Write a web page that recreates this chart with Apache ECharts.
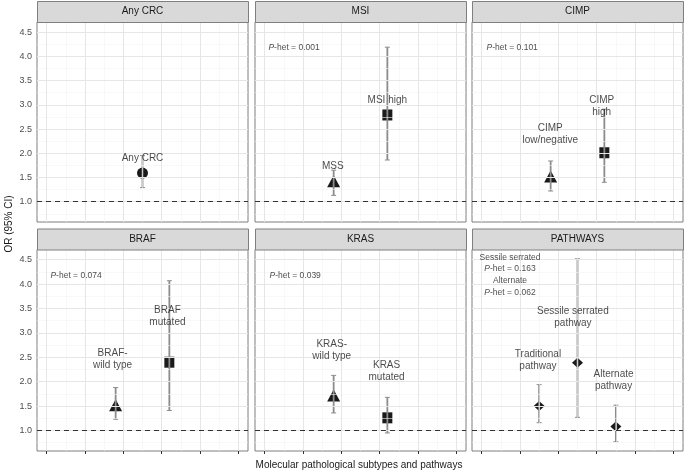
<!DOCTYPE html>
<html><head><meta charset="utf-8">
<script src="https://cdn.jsdelivr.net/npm/echarts@6/dist/echarts.min.js"></script>
<style>html,body{margin:0;padding:0;background:#fff}#c{width:685px;height:471px}</style>
</head><body><div id="c"></div>
<script>
// ---- data ----
const panelTitles = ['Any CRC','MSI','CIMP','BRAF','KRAS','PATHWAYS'];
const xTicks = [0,1,2,3,4,5];
const xMinor = [0.5,1.5,2.5,3.5,4.5];
const yTicks = [1.0,1.5,2.0,2.5,3.0,3.5,4.0,4.5];
const yMinor = [0.75,1.25,1.75,2.25,2.75,3.25,3.75,4.25];
const refValue = 1.0;

const anyX = [2.5], anyOR = [1.59], anyLo = [1.29], anyHi = [1.95], anyShape = ['circle'];
const msiX = [1.8,3.2], msiOR = [1.42,2.79], msiLo = [1.13,1.86], msiHi = [1.65,4.19], msiShape = ['triangle','rect'];
const cimpX = [1.8,3.2], cimpOR = [1.52,2.01], cimpLo = [1.22,1.40], cimpHi = [1.84,2.91], cimpShape = ['triangle','rect'];
const brafX = [1.8,3.2], brafOR = [1.52,2.40], brafLo = [1.23,1.41], brafHi = [1.88,4.07], brafShape = ['triangle','rect'];
const krasX = [1.8,3.2], krasOR = [1.72,1.26], krasLo = [1.36,0.95], krasHi = [2.13,1.68], krasShape = ['triangle','rect'];
const pathX = [1.5,2.5,3.5], pathOR = [1.50,2.39,1.08], pathLo = [1.16,1.27,0.77], pathHi = [1.94,4.52,1.52], pathShape = ['diamond','diamond','diamond'];

// labels: text, x, y (data units)
const anyLabText = ['Any CRC'], anyLabX = [2.5], anyLabY = [1.89];
const msiLabText = ['MSS','MSI high'], msiLabX = [1.78,3.2], msiLabY = [1.73,3.10];
const cimpLabText = ['CIMP\nlow/negative','CIMP\nhigh'], cimpLabX = [1.79,3.13], cimpLabY = [2.39,2.96];
const brafLabText = ['BRAF-\nwild type','BRAF\nmutated'], brafLabX = [1.72,3.15], brafLabY = [2.46,3.34];
const krasLabText = ['KRAS-\nwild type','KRAS\nmutated'], krasLabX = [1.75,3.18], krasLabY = [2.65,2.21];
const pathLabText = ['Traditional\npathway','Sessile serrated\npathway','Alternate\npathway'], pathLabX = [1.47,2.38,3.44], pathLabY = [2.45,3.33,2.03];

// p-het annotations
const phetText = [null,'0.001','0.101','0.074','0.039',null];
const phetX = [0,0.1,0.13,0.1,0.13,0];
const phetY = [0,4.19,4.19,4.18,4.18,0];
const pathNoteText = ['Sessile serrated','{i|P}-het = 0.163','Alternate','{i|P}-het = 0.062'];
const pathNoteX = 0.74, pathNoteY = 4.19;

const panels = [
  {x:anyX,or:anyOR,lo:anyLo,hi:anyHi,sh:anyShape,lt:anyLabText,lx:anyLabX,ly:anyLabY},
  {x:msiX,or:msiOR,lo:msiLo,hi:msiHi,sh:msiShape,lt:msiLabText,lx:msiLabX,ly:msiLabY},
  {x:cimpX,or:cimpOR,lo:cimpLo,hi:cimpHi,sh:cimpShape,lt:cimpLabText,lx:cimpLabX,ly:cimpLabY},
  {x:brafX,or:brafOR,lo:brafLo,hi:brafHi,sh:brafShape,lt:brafLabText,lx:brafLabX,ly:brafLabY},
  {x:krasX,or:krasOR,lo:krasLo,hi:krasHi,sh:krasShape,lt:krasLabText,lx:krasLabX,ly:krasLabY},
  {x:pathX,or:pathOR,lo:pathLo,hi:pathHi,sh:pathShape,lt:pathLabText,lx:pathLabX,ly:pathLabY}
];

// ---- layout ----
const FONT = '"Liberation Sans", Arial, Helvetica, sans-serif';
const colLeft = [37,255,472], panelW = 211;
const rowTop = [22,249.5], panelH = [200,201.5];
const stripH = 21;
const XMIN = -0.25, XMAX = 5.25, YMIN = 0.58, YMAX = 4.71;

const symSize = {circle:[11,11], triangle:[13,12], rect:[10,11], diamond:[11,10]};

const grids=[], xAxes=[], yAxes=[], series=[], graphics=[];

function renderErr(params, api){
  const x = api.value(0), lo = api.value(1), hi = api.value(2);
  const a = api.coord([x,lo]), b = api.coord([x,hi]);
  const c = 2.5;
  const st = {stroke:'#8c8c8c', lineWidth:1.8};
  return {type:'group', children:[
    {type:'line', shape:{x1:a[0],y1:a[1],x2:b[0],y2:b[1]}, style:st},
    {type:'line', shape:{x1:a[0]-c,y1:a[1],x2:a[0]+c,y2:a[1]}, style:{stroke:'#8c8c8c',lineWidth:1}},
    {type:'line', shape:{x1:b[0]-c,y1:b[1],x2:b[0]+c,y2:b[1]}, style:{stroke:'#8c8c8c',lineWidth:1}}
  ]};
}

panels.forEach((p,i)=>{
  const r = Math.floor(i/3), c = i%3;
  const left = colLeft[c], top = rowTop[r], h = panelH[r];
  grids.push({left:left, top:top, width:panelW, height:h, show:true, backgroundColor:'#fff', borderColor:'#7f7f7f', borderWidth:1, containLabel:false});
  xAxes.push({type:'value', gridIndex:i, min:XMIN, max:XMAX,
    axisLine:{show:false}, splitLine:{show:false},
    axisTick:{show:r===1, customValues:xTicks, length:3, lineStyle:{color:'#333'}},
    axisLabel:{show:false}});
  yAxes.push({type:'value', gridIndex:i, min:YMIN, max:YMAX,
    axisLine:{show:false}, splitLine:{show:false},
    axisTick:{show:c===0, customValues:yTicks, length:3, lineStyle:{color:'#333'}},
    axisLabel:{show:c===0, customValues:yTicks, formatter:v=>Number(v).toFixed(1), color:'#4d4d4d', fontSize:9, fontFamily:FONT, margin:5}});

  // grid lines
  const gl = [];
  xMinor.forEach(v=>gl.push({xAxis:v, lineStyle:{color:'#f3f3f3',width:0.6,type:'solid'}}));
  yMinor.forEach(v=>gl.push({yAxis:v, lineStyle:{color:'#f3f3f3',width:0.6,type:'solid'}}));
  xTicks.forEach(v=>gl.push({xAxis:v, lineStyle:{color:'#e6e6e6',width:1,type:'solid'}}));
  yTicks.forEach(v=>gl.push({yAxis:v, lineStyle:{color:'#e6e6e6',width:1,type:'solid'}}));
  series.push({type:'scatter', xAxisIndex:i, yAxisIndex:i, data:[], silent:true, z:1,
    markLine:{silent:true, symbol:'none', label:{show:false}, animation:false, data:gl}});
  // reference line
  series.push({type:'scatter', xAxisIndex:i, yAxisIndex:i, data:[], silent:true, z:2,
    markLine:{silent:true, symbol:'none', label:{show:false}, animation:false,
      data:[{yAxis:refValue, lineStyle:{color:'#333', width:1.1, type:[5,4]}}]}});
  // points
  series.push({type:'scatter', xAxisIndex:i, yAxisIndex:i, z:3, animation:false,
    itemStyle:{color:'#1a1a1a', opacity:1},
    data:p.x.map((x,k)=>({value:[x,p.or[k]], symbol:p.sh[k], symbolSize:symSize[p.sh[k]]}))});
  // error bars
  series.push({type:'custom', xAxisIndex:i, yAxisIndex:i, z:4, animation:false,
    renderItem:renderErr, data:p.x.map((x,k)=>[x,p.lo[k],p.hi[k]])});
  // labels
  series.push({type:'scatter', xAxisIndex:i, yAxisIndex:i, z:5, symbolSize:0, animation:false, silent:true,
    label:{show:true, position:'inside', formatter:d=>d.name, color:'#1a1a1a', fontSize:10, lineHeight:12, fontFamily:FONT, align:'center', verticalAlign:'middle'},
    data:p.lt.map((t,k)=>({name:t, value:[p.lx[k],p.ly[k]]}))});
  if (phetText[i]) {
    series.push({type:'scatter', xAxisIndex:i, yAxisIndex:i, z:5, symbolSize:0, animation:false, silent:true,
      label:{show:true, position:'inside', align:'left', verticalAlign:'middle', formatter:'{i|P}-het = '+phetText[i],
        color:'#1a1a1a', fontSize:8.5, fontFamily:FONT, rich:{i:{fontStyle:'italic', fontSize:8.5, fontFamily:FONT, color:'#1a1a1a'}}},
      data:[{value:[phetX[i],phetY[i]]}]});
  }
  if (i===5) {
    series.push({type:'scatter', xAxisIndex:i, yAxisIndex:i, z:5, symbolSize:0, animation:false, silent:true,
      label:{show:true, position:'inside', align:'center', verticalAlign:'middle', formatter:pathNoteText.join('\n'),
        color:'#1a1a1a', fontSize:8.5, lineHeight:11.8, fontFamily:FONT, rich:{i:{fontStyle:'italic', fontSize:8.5, lineHeight:11.8, fontFamily:FONT, color:'#1a1a1a'}}},
      data:[{value:[pathNoteX,pathNoteY]}]});
  }
  // strip
  graphics.push({type:'rect', left:left, top:top-stripH, shape:{width:panelW, height:stripH},
    style:{fill:'#d9d9d9', stroke:'#7f7f7f', lineWidth:1}, z:10});
  graphics.push({type:'text', x:left+panelW/2, y:top-stripH/2, style:{text:panelTitles[i], font:'10px '+FONT, fill:'#1a1a1a', align:'center', verticalAlign:'middle'}, z:11});
});

graphics.push({type:'text', x:359, y:465, style:{text:'Molecular pathological subtypes and pathways', font:'10px '+FONT, fill:'#1a1a1a', align:'center', verticalAlign:'middle'}});
graphics.push({type:'text', x:9, y:224, rotation:Math.PI/2, style:{text:'OR (95% CI)', font:'10px '+FONT, fill:'#1a1a1a', align:'center', verticalAlign:'middle'}});

const chart = echarts.init(document.getElementById('c'), null, {renderer:'canvas'});
chart.setOption({animation:false, grid:grids, xAxis:xAxes, yAxis:yAxes, series:series, graphic:graphics});
</script></body></html>
